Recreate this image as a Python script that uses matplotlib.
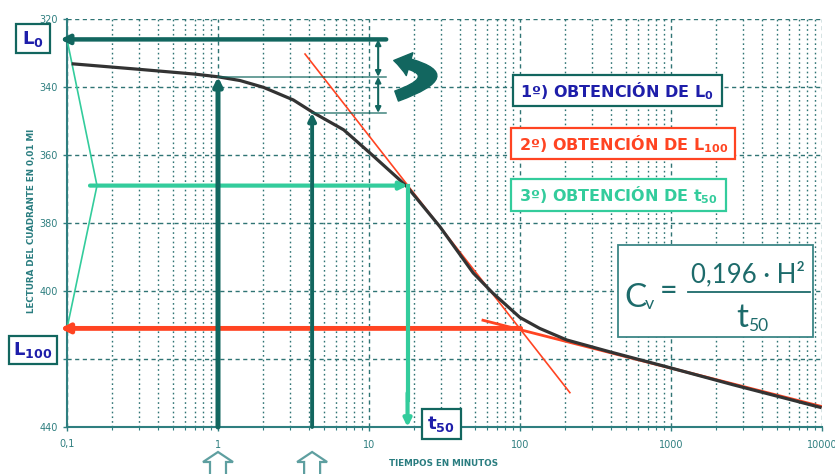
import matplotlib
matplotlib.use("Agg")
import matplotlib.pyplot as plt
from matplotlib.patches import Rectangle, FancyArrowPatch, Polygon
from matplotlib.ticker import FixedLocator, FixedFormatter, NullFormatter

plt.rcParams['mathtext.fontset'] = 'custom'
plt.rcParams['mathtext.rm'] = 'DejaVu Sans:bold'
plt.rcParams['mathtext.it'] = 'DejaVu Sans:bold'
plt.rcParams['mathtext.bf'] = 'DejaVu Sans:bold'

# ---------------- data ----------------
curve_x = [0.11, 0.3, 0.7, 1.0, 1.4, 2.0, 3.15, 4.3, 6.8, 10.2, 15.6, 18, 29.5, 49, 66,
           100, 135, 204, 394, 936, 2588, 9700]
curve_y = [333.2, 334.8, 336.2, 337.0, 338.1, 340.1, 343.8, 347.6, 352.6, 359.5, 366.9,
           369.5, 381.1, 394.7, 400.6, 407.8, 411.0, 414.4, 417.9, 422.3, 427.6, 434.2]

tangent1_x = [3.77, 214]
tangent1_y = [330.3, 429.9]
tangent2_x = [55.7, 10000]
tangent2_y = [408.5, 434.0]

L0 = 326.0
L100 = 411.0
L50 = 369.0
t1, y_t1 = 1.0, 337.0
t2, y_t2 = 4.2, 347.6
t50 = 18.0
x_int = 101.0          # intersection of the tangents
x_bracket = 11.5
x_bracket_end = 13.0
x_left_tip = 0.09
green_poly_x = [0.1, 0.158, 0.1]
green_poly_y = [L0, L50, L100]
x_green_start = 0.142

xticks = [0.1, 1, 10, 100, 1000, 10000]
xticklabels = ["0,1", "1", "10", "100", "1000", "10000"]
yticks = [320, 340, 360, 380, 400, 420, 440]
yticklabels = ["320", "340", "360", "380", "400", "420", "440"]

# ---------------- styles ----------------
TEAL = '#12665f'
GRID = '#2f7474'
AXC = '#2f7f80'
RED = '#ff4422'
GREEN = '#33cc9c'
BLUE = '#1e1eaa'

W, H = 835, 474
fig = plt.figure(figsize=(W / 100, H / 100), dpi=100)
ax = fig.add_axes([67 / W, 1 - 427 / H, 755 / W, 408 / H])
ax.set_xscale('log')
ax.set_xlim(0.1, 10000)
ax.set_ylim(440, 320)

def P(x, y):
    return (x / W, 1 - y / H)

# ticks & grid
ax.xaxis.set_major_locator(FixedLocator(xticks))
ax.xaxis.set_major_formatter(FixedFormatter(xticklabels))
minors = [m * 10.0 ** e for e in range(-1, 4) for m in range(2, 10)]
ax.xaxis.set_minor_locator(FixedLocator(minors))
ax.xaxis.set_minor_formatter(NullFormatter())
ax.set_yticks(yticks)
ax.set_yticklabels(yticklabels)
ax.tick_params(axis='both', which='major', labelsize=7, labelcolor=AXC, color=AXC,
               length=3, width=1)
ax.tick_params(axis='x', which='minor', color=AXC, length=2, width=0.8)
ax.tick_params(axis='x', which='major', pad=6)
ax.grid(which='major', axis='both', color=GRID, ls=(0, (3, 2.5)), lw=1.0)
ax.grid(which='minor', axis='x', color=GRID, ls=(0, (1.2, 2.2)), lw=1.0)
for s in ['top', 'right']:
    ax.spines[s].set_visible(False)
for s in ['left', 'bottom']:
    ax.spines[s].set_color(AXC)
    ax.spines[s].set_linewidth(1.5)

# curve and tangents
ax.plot(tangent1_x, tangent1_y, color=RED, lw=1.2, zorder=4)
ax.plot(tangent2_x, tangent2_y, color=RED, lw=2.0, zorder=4, solid_capstyle='butt')
ax.plot(curve_x, curve_y, color='#333333', lw=2.3, zorder=5, solid_joinstyle='round')

# green thin polyline
ax.plot(green_poly_x, green_poly_y, color=GREEN, lw=1.2, zorder=3, clip_on=False)

def arrow(xy, xytext, color, lw, ms=12, style='-|>', z=6):
    ax.annotate('', xy=xy, xytext=xytext, annotation_clip=False,
                arrowprops=dict(arrowstyle=style, color=color, lw=lw, mutation_scale=ms,
                                shrinkA=0, shrinkB=0),
                zorder=z)

# L0 line
arrow((x_left_tip, L0), (x_bracket_end, L0), TEAL, 3.2, ms=13)
# L100 line
arrow((x_left_tip, L100), (x_int, L100), RED, 3.5, ms=13)
# thin horizontal lines
ax.plot([t1, x_bracket_end], [y_t1, y_t1], color=TEAL, lw=1.1, alpha=0.8, zorder=5)
ax.plot([t2, x_bracket_end], [y_t2, y_t2], color=TEAL, lw=1.1, alpha=0.8, zorder=5)
# bracket double arrows
arrow((x_bracket, L0), (x_bracket, y_t1), TEAL, 1.5, ms=8, style='<|-|>')
arrow((x_bracket, y_t1), (x_bracket, y_t2), TEAL, 1.5, ms=8, style='<|-|>')
# vertical arrows at t1, t2
arrow((t1, y_t1), (t1, 440), TEAL, 3.6, ms=12, z=7)
arrow((t2, y_t2), (t2, 440), TEAL, 2.8, ms=11, z=7)
# green t50 arrows
arrow((t50, L50), (x_green_start, L50), GREEN, 3.0, ms=11)
ax.plot([t50, t50], [L50, 432], color=GREEN, lw=3.0, zorder=6)
arrow((t50, 440), (t50, 430), GREEN, 3.0, ms=11)

# curved arrow
ca = FancyArrowPatch(posA=P(394, 97), posB=P(391, 60), transform=fig.transFigure,
                     connectionstyle='arc3,rad=1.9',
                     arrowstyle='simple,head_length=1.3,head_width=1.9,tail_width=0.85',
                     mutation_scale=9, color=TEAL, zorder=8)
fig.add_artist(ca)

# hollow up-arrows below axis
for xv in [t1, t2]:
    cx = ax.transData.transform((xv, 440))[0]
    pts = [(cx, 452), (cx - 15, 462), (cx - 8, 462), (cx - 8, 480), (cx + 8, 480),
           (cx + 8, 462), (cx + 15, 462)]
    poly = Polygon([P(a, b) for a, b in pts], closed=True, transform=fig.transFigure,
                   facecolor='white', edgecolor='#5e9fa0', lw=1.6, clip_on=False)
    fig.add_artist(poly)

# boxes
def box(x0, y0, x1, y1, ec, lw=1.6, z=10):
    r = Rectangle(P(x0, y1), (x1 - x0) / W, (y1 - y0) / H, transform=fig.transFigure,
                  facecolor='white', edgecolor=ec, lw=lw, zorder=z)
    fig.add_artist(r)

box(16, 24, 50, 53, TEAL)
fig.text(*P(33, 39), r'L$_0$', color=BLUE, fontsize=13, fontweight='bold',
         ha='center', va='center', zorder=11)
box(9, 336, 57, 364, TEAL)
fig.text(*P(33, 350), r'L$_{100}$', color=BLUE, fontsize=13, fontweight='bold',
         ha='center', va='center', zorder=11)
box(422, 409, 461, 439, TEAL)
fig.text(*P(441, 424), r't$_{50}$', color=BLUE, fontsize=13, fontweight='bold',
         ha='center', va='center', zorder=11)

box(513, 75, 722, 106, TEAL)
fig.text(*P(617, 91), r'1º) OBTENCIÓN DE L$_0$', color=BLUE, fontsize=11.5,
         fontweight='bold', ha='center', va='center', zorder=11)
box(511, 128, 735, 159, RED)
fig.text(*P(624, 144), r'2º) OBTENCIÓN DE L$_{100}$', color=RED, fontsize=11.5,
         fontweight='bold', ha='center', va='center', zorder=11)
box(511, 179, 726, 211, GREEN)
fig.text(*P(618, 195), r'3º) OBTENCIÓN DE t$_{50}$', color=GREEN, fontsize=11.5,
         fontweight='bold', ha='center', va='center', zorder=11)

# formula
FC = '#1d6b6b'
box(618, 245, 813, 337, '#3b8686', lw=1.3)
ff = 'Lato'
fig.text(*P(624, 307), 'C', color=FC, fontsize=24, family=ff, ha='left', va='baseline', zorder=11)
fig.text(*P(645, 309), 'v', color=FC, fontsize=13, family=ff, ha='left', va='baseline', zorder=11)
fig.text(*P(669, 291), '=', color=FC, fontsize=22, family=ff, ha='center', va='center', zorder=11)
fig.text(*P(748, 282), '0,196 · H²', color=FC, fontsize=18.5, family=ff, ha='center',
         va='baseline', zorder=11)
fig.add_artist(plt.Line2D([688 / W, 810 / W], [1 - 292 / H, 1 - 292 / H], color=FC, lw=1.3,
                          transform=fig.transFigure, zorder=11))
fig.text(*P(748, 327), 't', color=FC, fontsize=24, family=ff, ha='right', va='baseline', zorder=11)
fig.text(*P(748, 331), '50', color=FC, fontsize=12.5, family=ff, ha='left', va='baseline', zorder=11)

# axis labels
fig.text(*P(32, 221), 'LECTURA DEL CUADRANTE EN 0,01 MI', rotation=90, color='#2a7d80',
         fontsize=6.3, fontweight='bold', ha='center', va='center')
fig.text(*P(444, 463), 'TIEMPOS EN MINUTOS', color='#2a7d80', fontsize=6.3,
         fontweight='bold', ha='center', va='center')

fig.savefig('out.png', dpi=100)
